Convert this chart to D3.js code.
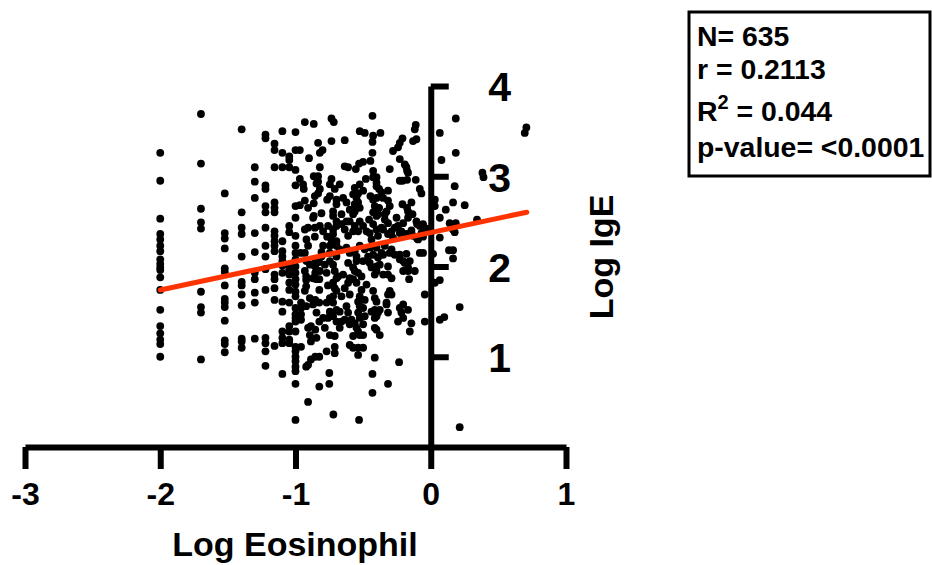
<!DOCTYPE html>
<html>
<head>
<meta charset="utf-8">
<script src="https://cdn.jsdelivr.net/npm/d3@7"></script>
<style>
  body { margin: 0; background: #fff; }
  svg text { font-family: "Liberation Sans", Arial, Helvetica, sans-serif; font-weight: bold; fill: #000; }
</style>
</head>
<body>
<svg id="chart" width="932" height="565"></svg>
<script>
// ---- data ----
var xTicks = [-3, -2, -1, 0, 1];
var yTicks = [1, 2, 3, 4];

// low eosinophil counts fall on discrete log10 columns (0.01, 0.02, ... x10^9/L)
var columnX = [-2, -1.699, -1.523, -1.398, -1.301, -1.222, -1.155, -1.097, -1.046, -1];
var columnY = [
    [3.26, 2.95, 2.53, 2.36, 2.30, 2.23, 2.17, 2.08, 2.03, 1.99, 1.96, 1.88, 1.74, 1.52, 1.34, 1.26, 1.19, 1.14, 1.00],
    [3.69, 3.14, 2.64, 2.49, 2.42, 1.72, 1.55, 1.49, 0.97],
    [2.81, 2.37, 2.31, 2.20, 1.98, 1.94, 1.79, 1.64, 1.60, 1.55, 1.40, 1.18, 1.14, 1.05],
    [3.52, 2.60, 2.43, 2.36, 2.11, 1.83, 1.79, 1.69, 1.57, 1.20, 1.17, 1.10],
    [3.10, 2.94, 2.76, 2.37, 2.16, 1.93, 1.86, 1.71, 1.60, 1.20],
    [3.46, 3.42, 2.90, 2.86, 2.67, 2.60, 2.43, 2.23, 2.11, 1.97, 1.74, 1.21, 1.15, 1.06, 0.90],
    [3.36, 3.29, 3.10, 2.71, 2.65, 2.60, 2.39, 2.34, 2.28, 2.23, 2.17, 1.91, 1.86, 1.76, 1.63, 1.12],
    [3.50, 3.26, 3.10, 2.28, 2.17, 2.11, 2.06, 2.01, 1.93, 1.61, 1.50, 1.28, 1.21, 1.15, 0.81],
    [3.22, 3.18, 3.10, 2.45, 2.38, 2.02, 1.97, 1.91, 1.82, 1.74, 1.60, 1.34, 1.28, 1.19, 1.15],
    [3.49, 3.29, 3.07, 2.90, 2.67, 2.54, 2.34, 2.23, 2.15, 2.08, 2.00, 1.93, 1.86, 1.80, 1.72, 1.67, 1.54, 1.47, 1.43, 1.39, 1.28, 1.11, 1.06, 1.00, 0.95, 0.89, 0.84, 0.70, 0.30]
];

// [log eosinophil, log IgE] for the denser part of the cloud
var scatterPts = [
    [-0.931,3.60],[-0.865,3.58],[-0.734,3.64],[-0.717,3.60],[-0.833,3.37],[-0.734,3.39],[-0.968,3.29],[-0.900,3.20],
    [-0.800,3.29],[-0.820,3.26],[-0.820,3.10],[-0.968,2.97],[-0.944,2.91],[-0.939,2.86],[-0.865,3.00],[-0.833,3.00],
    [-0.833,2.94],[-0.734,2.97],[-0.820,2.86],[-0.833,2.81],[-0.968,2.68],[-0.865,2.70],[-0.865,2.56],[-0.808,2.59],
    [-0.766,2.74],[-0.746,2.78],[-0.710,2.86],[-0.697,2.69],[-0.722,2.61],[-0.907,2.43],[-0.919,2.30],[-0.907,2.23],
    [-0.857,2.43],[-0.857,2.33],[-0.820,2.45],[-0.796,2.39],[-0.759,2.45],[-0.722,2.41],[-0.697,2.45],[-0.766,2.33],
    [-0.734,2.30],[-0.697,2.23],[-0.796,2.23],[-0.963,2.15],[-0.808,2.16],[-0.826,2.05],[-0.746,2.15],[-0.697,2.11],
    [-0.845,2.92],[-0.857,2.78],[-0.746,2.91],[-0.931,2.73],[-0.907,2.65],[-0.931,2.41],[-0.870,2.54],[-0.931,2.15],
    [-0.919,2.06],[-0.931,1.95],[-0.894,2.02],[-0.870,1.87],[-0.808,2.11],[-0.783,2.02],[-0.820,1.95],[-0.845,1.86],
    [-0.746,2.06],[-0.894,1.65],[-0.870,1.58],[-0.845,1.49],[-0.796,1.43],[-0.783,1.32],[-0.931,1.73],[-0.894,1.24],
    [-0.845,1.21],[-0.746,1.65],[-0.746,1.50],[-0.746,1.24],
    [-0.959,1.60],[-0.959,1.54],[-0.959,1.47],[-0.959,1.41],[-0.959,1.11],[-0.921,1.89],[-0.921,1.85],[-0.921,1.78],
    [-0.921,1.56],[-0.921,0.89],[-0.907,1.32],[-0.907,0.91],[-0.907,0.50],[-0.886,1.34],[-0.886,1.17],[-0.886,0.97],
    [-0.854,2.08],[-0.854,2.00],[-0.854,1.93],[-0.854,1.63],[-0.854,1.30],[-0.854,1.00],[-0.824,1.86],[-0.824,1.74],
    [-0.824,1.60],[-0.824,1.39],[-0.824,1.00],[-0.824,0.67],[-0.770,1.93],[-0.760,1.79],[-0.770,1.60],[-0.760,1.43],
    [-0.770,1.06],[-0.750,0.82],[-0.750,0.70],
    [-0.722,2.02],[-0.710,1.95],[-0.685,1.89],[-0.722,1.82],[-0.710,1.76],[-0.611,2.04],[-0.574,1.99],[-0.537,1.93],
    [-0.574,1.86],[-0.611,1.82],[-0.636,1.76],[-0.660,1.67],[-0.722,1.67],[-0.549,2.06],[-0.500,2.06],[-0.451,2.04],
    [-0.401,2.00],[-0.414,1.91],[-0.475,1.80],[-0.512,1.74],[-0.525,1.67],[-0.488,1.63],[-0.316,2.00],[-0.316,1.91],
    [-0.290,1.87],[-0.192,2.04],[-0.168,1.99],[-0.118,1.95],[-0.160,1.86],[-0.303,1.73],[-0.290,1.69],[-0.327,1.60],
    [-0.414,1.65],[-0.401,1.61],[-0.414,1.52],[-0.390,1.49],[-0.537,1.61],[-0.525,1.56],[-0.537,1.49],[-0.525,1.43],
    [-0.500,1.36],[-0.722,1.60],[-0.697,1.52],[-0.673,1.50],[-0.722,1.45],[-0.697,1.39],[-0.660,1.39],[-0.623,1.56],
    [-0.611,1.49],[-0.636,1.41],[-0.586,1.41],[-0.562,1.37],[-0.549,1.32],[-0.525,1.24],[-0.500,1.24],[-0.574,1.23],
    [-0.599,1.13],[-0.574,1.10],[-0.537,1.10],[-0.500,1.10],[-0.537,1.02],[-0.710,1.23],[-0.710,1.11],[-0.710,1.04],
    [-0.204,1.58],[-0.168,1.52],[-0.217,1.49],[-0.242,1.39],[-0.143,1.37],[-0.155,1.28],[-0.414,0.99],[-0.234,0.94],
    [-0.431,0.81],[-0.316,0.70],[-0.431,0.60],[-0.720,0.36],[-0.530,0.30],[-0.044,1.69],[-0.044,1.39],
    [-0.431,3.67],[-0.111,3.57],[-0.118,3.52],[-0.636,3.40],[-0.525,3.50],[-0.488,3.48],[-0.426,3.45],[-0.431,3.38],
    [-0.372,3.48],[-0.229,3.37],[-0.209,3.42],[-0.242,3.32],[-0.279,3.28],[-0.131,3.39],[-0.106,3.41],[-0.431,3.26],
    [-0.446,3.17],[-0.500,3.16],[-0.530,3.14],[-0.229,3.19],[-0.636,3.11],[-0.611,3.10],[-0.554,3.08],[-0.426,3.06],
    [-0.401,2.99],[-0.401,2.93],[-0.303,3.08],[-0.192,3.13],[-0.175,3.06],[-0.168,3.04],[-0.673,2.91],[-0.562,2.87],
    [-0.525,2.91],[-0.537,2.81],[-0.500,2.84],[-0.480,2.97],[-0.401,2.89],[-0.382,2.86],[-0.364,2.82],[-0.209,2.95],
    [-0.175,2.96],[-0.111,2.96],[-0.081,2.86],[-0.069,2.81],[-0.697,2.74],[-0.648,2.76],[-0.623,2.71],[-0.599,2.63],
    [-0.549,2.76],[-0.537,2.71],[-0.525,2.65],[-0.562,2.61],[-0.426,2.74],[-0.414,2.67],[-0.426,2.60],[-0.352,2.76],
    [-0.316,2.73],[-0.303,2.67],[-0.327,2.61],[-0.209,2.69],[-0.175,2.65],[-0.143,2.71],[-0.135,2.58],[-0.722,2.56],
    [-0.697,2.50],[-0.660,2.47],[-0.636,2.41],[-0.599,2.50],[-0.562,2.45],[-0.525,2.50],[-0.500,2.45],[-0.537,2.39],
    [-0.456,2.52],[-0.426,2.47],[-0.401,2.41],[-0.451,2.37],[-0.340,2.52],[-0.316,2.48],[-0.352,2.41],[-0.290,2.39],
    [-0.316,2.36],[-0.242,2.45],[-0.217,2.39],[-0.180,2.36],[-0.143,2.40],[-0.101,2.47],[-0.081,2.45],[-0.130,2.34],
    [-0.101,2.31],[-0.057,2.33],[-0.673,2.19],[-0.623,2.21],[-0.599,2.15],[-0.562,2.17],[-0.525,2.23],[-0.488,2.19],
    [-0.463,2.11],[-0.401,2.21],[-0.364,2.15],[-0.340,2.23],[-0.290,2.19],[-0.266,2.13],[-0.229,2.08],[-0.180,2.14],
    [-0.155,2.06],[-0.081,2.15],
    [-0.574,2.80],[-0.426,2.99],[-0.446,2.78],[-0.660,2.58],[-0.623,2.50],[-0.562,2.69],[-0.574,2.58],[-0.574,2.39],
    [-0.475,2.39],[-0.611,2.34],[-0.401,2.56],[-0.390,2.34],[-0.438,2.30],[-0.722,2.36],[-0.697,2.28],[-0.746,2.23],
    [-0.648,1.91],[-0.697,1.87],[-0.549,2.11],[-0.562,1.95],[-0.599,1.87],[-0.549,1.82],[-0.512,1.89],[-0.446,2.21],
    [-0.426,2.13],[-0.438,1.99],[-0.697,1.73],[-0.673,1.32],[-0.599,1.69],[-0.599,1.36],[-0.500,1.54],[-0.488,1.45],
    [-0.537,1.28],[-0.426,1.73],[-0.438,1.50],[-0.401,1.45],[-0.414,1.32],
    [-0.180,3.10],[-0.229,2.95],[-0.316,2.84],[-0.401,2.76],[-0.382,2.65],[-0.390,2.58],[-0.340,2.58],[-0.253,2.54],
    [-0.168,2.61],[-0.168,2.54],[-0.204,2.48],[-0.106,2.50],[-0.044,2.39],[-0.094,2.30],[-0.364,2.43],[-0.266,2.43],
    [-0.229,2.37],[-0.279,2.32],[-0.390,2.10],[-0.352,2.13],[-0.303,2.15],[-0.229,2.13],[-0.377,2.02],[-0.401,1.95],
    [-0.352,1.91],[-0.204,2.06],[-0.168,1.95],[-0.204,1.95],[-0.377,1.52],[-0.327,1.58],[-0.316,1.69],[-0.316,1.49],
    [-0.414,1.43],[-0.229,1.54],[-0.204,1.43],[-0.401,1.30],[-0.377,1.24],
    [0.185,3.64],[0.067,3.48],[0.185,3.26],[0.079,3.18],[0.707,3.54],[0.695,3.48],[0.382,3.04],[0.390,2.99],
    [0.177,2.89],[0.030,2.74],[0.030,2.67],[0.165,2.71],[0.111,2.63],[0.251,2.68],[0.067,2.54],[0.342,2.52],
    [0.140,2.48],[0.185,2.48],[0.165,2.41],[0.177,2.38],[-0.057,2.47],[-0.020,2.42],[-0.069,2.37],[0.067,2.32],
    [-0.057,2.15],[0.017,2.14],[0.135,2.18],[0.165,2.18],[0.165,2.09],[0.030,1.82],[0.067,1.85],[0.214,1.55],
    [0.067,1.41],[0.100,1.44],[0.214,0.22]
];

// linear fit as drawn
var fitSlope = 0.318;
var fitIntercept = 2.376;
var fitRange = [-2, 0.71];

var statLines = ["N= 635", "r = 0.2113", "R^2 = 0.044", "p-value= <0.0001"];

// ---- drawing ----
var svg = d3.select("#chart");

var x = d3.scaleLinear().domain([-3, 1]).range([25, 566]);
var y = d3.scaleLinear().domain([0, 4]).range([447, 86]);

var allPts = [];
columnX.forEach(function (cx, i) {
    columnY[i].forEach(function (cy) { allPts.push([cx, cy]); });
});
allPts = allPts.concat(scatterPts);

svg.append("g")
    .selectAll("circle")
    .data(allPts)
    .enter().append("circle")
    .attr("cx", function (d) { return x(d[0]); })
    .attr("cy", function (d) { return y(d[1]); })
    .attr("r", 3.9)
    .attr("fill", "#000");

// x axis
var xAxis = svg.append("g")
    .attr("transform", "translate(0," + y(0) + ")")
    .call(d3.axisBottom(x)
        .tickValues(xTicks)
        .tickSize(22)
        .tickSizeOuter(0)
        .tickPadding(13)
        .tickFormat(function (d) { return d < 0 ? "-" + Math.abs(d) : d; }));
xAxis.select(".domain").attr("stroke", "#000").attr("stroke-width", 6);
xAxis.selectAll(".tick line").attr("stroke", "#000").attr("stroke-width", 6);
xAxis.selectAll(".tick text").attr("font-size", 32);

// y axis, ticks pointing right
var yAxis = svg.append("g")
    .attr("transform", "translate(" + x(0) + ",0)")
    .call(d3.axisRight(y)
        .tickValues(yTicks)
        .tickSize(18)
        .tickSizeOuter(0)
        .tickFormat(d3.format("d")));
yAxis.select(".domain").attr("stroke", "#000").attr("stroke-width", 6);
yAxis.selectAll(".tick line").attr("stroke", "#000").attr("stroke-width", 6);
yAxis.selectAll(".tick text")
    .attr("x", 69)
    .attr("dy", "0.36em")
    .attr("text-anchor", "middle")
    .attr("font-size", 41);

// regression line on top of the dots
var line = d3.line()
    .x(function (d) { return x(d); })
    .y(function (d) { return y(fitIntercept + fitSlope * d); });
svg.append("path")
    .datum(fitRange)
    .attr("d", line)
    .attr("fill", "none")
    .attr("stroke", "#ff3300")
    .attr("stroke-width", 5)
    .attr("stroke-linecap", "round");

// axis titles
svg.append("text")
    .attr("x", 295)
    .attr("y", 556)
    .attr("text-anchor", "middle")
    .attr("font-size", 34)
    .text("Log Eosinophil");

svg.append("text")
    .attr("transform", "translate(613,257) rotate(-90)")
    .attr("text-anchor", "middle")
    .attr("font-size", 34)
    .text("Log IgE");

// stats box
svg.append("rect")
    .attr("x", 689).attr("y", 12)
    .attr("width", 241).attr("height", 164)
    .attr("fill", "none")
    .attr("stroke", "#000")
    .attr("stroke-width", 3);

var baselines = [46, 79, 121, 157];
statLines.forEach(function (s, i) {
    var t = svg.append("text")
        .attr("x", 697)
        .attr("y", baselines[i])
        .attr("font-size", 28.4);
    if (s.indexOf("^") >= 0) {
        var parts = s.split("^");
        t.append("tspan").text(parts[0]);
        t.append("tspan").attr("font-size", 20).attr("dy", -12).text(parts[1].charAt(0));
        t.append("tspan").attr("dy", 12).text(parts[1].slice(1));
    } else {
        t.text(s);
    }
});
</script>
</body>
</html>
